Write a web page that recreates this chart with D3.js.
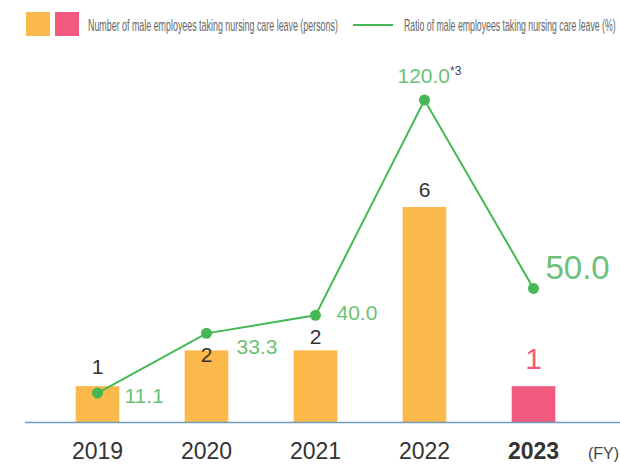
<!DOCTYPE html>
<html>
<head>
<meta charset="UTF-8">
<title>Male employees nursing care leave</title>
<script src="https://cdn.jsdelivr.net/npm/d3@7"></script>
<style>
  body { margin: 0; background: #fff; }
  text { font-family: "Liberation Sans", Arial, sans-serif; }
</style>
</head>
<body>
<script>
// data
var years = ["2019", "2020", "2021", "2022", "2023"];
var persons = [1, 2, 2, 6, 1];
var ratio = [11.1, 33.3, 40.0, 120.0, 50.0];
var ratioLabels = ["11.1", "33.3", "40.0", "120.0", "50.0"];

var width = 620, height = 468;
var baseY = 422;

var svg = d3.select("body").append("svg")
  .attr("width", width)
  .attr("height", height);

// scales
var x = d3.scaleBand().domain(years).range([43, 588]).paddingInner(0.6).paddingOuter(0.3);
var yBar = d3.scaleLinear().domain([0, 6]).range([baseY, 207]);
var yLine = d3.scaleLinear().domain([0, 120]).range([baseY + 1, 100]);

var orange = "#fbb84b", pink = "#f15a7e", green = "#45b855", lightGreen = "#6bc278";
var last = years[years.length - 1];

// bars
svg.selectAll(".bar")
  .data(years)
  .enter().append("rect")
  .attr("x", d => x(d))
  .attr("width", x.bandwidth())
  .attr("y", (d, i) => yBar(persons[i]))
  .attr("height", (d, i) => baseY - yBar(persons[i]))
  .attr("fill", d => d == last ? pink : orange);

// axis line
svg.append("line")
  .attr("x1", 25).attr("x2", 620)
  .attr("y1", baseY + 0.5).attr("y2", baseY + 0.5)
  .attr("stroke", "#6f9cba").attr("stroke-width", 1.5);

// bar labels (2020 label sits down on the bar, under the line)
var barDy = [-12, 12, -6, -10, -17];
svg.selectAll(".barLabel")
  .data(years)
  .enter().append("text")
  .attr("x", d => x(d) + x.bandwidth() / 2)
  .attr("y", (d, i) => yBar(persons[i]) + barDy[i])
  .attr("text-anchor", "middle")
  .attr("font-size", d => d == last ? 30 : 21)
  .attr("fill", d => d == last ? pink : "#333")
  .text((d, i) => persons[i]);

// line
var cx = d => x(d) + x.bandwidth() / 2;
svg.append("path")
  .datum(years)
  .attr("fill", "none")
  .attr("stroke", green)
  .attr("stroke-width", 2)
  .attr("d", d3.line().x(cx).y((d, i) => yLine(ratio[i])));

svg.selectAll(".dot")
  .data(years)
  .enter().append("circle")
  .attr("cx", cx)
  .attr("cy", (d, i) => yLine(ratio[i]))
  .attr("r", 5.5)
  .attr("fill", green);

// line labels
var labelDx = [27, 30, 21, -27, 12];
var labelDy = [10, 21, 5, -17, -9];
var ratioText = svg.selectAll(".ratioLabel")
  .data(years)
  .enter().append("text")
  .attr("x", (d, i) => cx(d) + labelDx[i])
  .attr("y", (d, i) => yLine(ratio[i]) + labelDy[i])
  .attr("font-size", d => d == last ? 33 : 21)
  .attr("fill", lightGreen)
  .text((d, i) => ratioLabels[i]);

ratioText.filter(d => d == "2022").append("tspan")
  .attr("dy", -8)
  .attr("font-size", 12)
  .attr("fill", "#444")
  .text("*3");

// x axis labels
var xAxis = d3.axisBottom(x).tickSize(0).tickPadding(0);
var gx = svg.append("g").attr("transform", "translate(0," + 443 + ")").call(xAxis);
gx.select(".domain").remove();
gx.selectAll("text")
  .attr("font-size", 23)
  .attr("fill", "#333")
  .attr("font-family", "Liberation Sans, Arial, sans-serif")
  .attr("font-weight", d => d == last ? "bold" : "normal");

svg.append("text")
  .attr("x", 588).attr("y", 459)
  .attr("font-size", 16).attr("fill", "#444")
  .text("(FY)");

// legend
var legend = svg.append("g");
legend.append("rect").attr("x", 26).attr("y", 12).attr("width", 24).attr("height", 24).attr("fill", orange);
legend.append("rect").attr("x", 55).attr("y", 12).attr("width", 24).attr("height", 24).attr("fill", pink);
legend.append("line")
  .attr("x1", 353).attr("x2", 393).attr("y1", 25).attr("y2", 25)
  .attr("stroke", green).attr("stroke-width", 2);

// condensed legend texts: squeeze horizontally to the width seen in the chart
function squeezed(x0, w, label) {
  var t = legend.append("text")
    .attr("font-size", 16).attr("fill", "#666")
    .text(label);
  var natural = t.node().getComputedTextLength();
  t.attr("transform", "translate(" + x0 + ",31) scale(" + (w / natural) + ",1)");
}
squeezed(88, 250, "Number of male employees taking nursing care leave (persons)");
squeezed(404, 212, "Ratio of male employees taking nursing care leave (%)");
</script>
</body>
</html>
